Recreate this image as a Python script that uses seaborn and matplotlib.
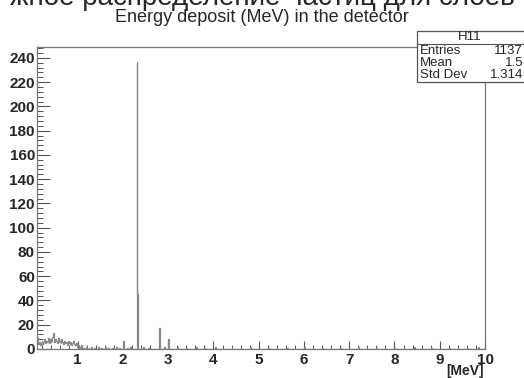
import numpy as np
import pandas as pd
import matplotlib
matplotlib.use("Agg")
import matplotlib.pyplot as plt
import seaborn as sns
from matplotlib.patches import Rectangle
from matplotlib.lines import Line2D
from matplotlib.ticker import MultipleLocator

# ---- data ----
bin_width = 0.02
x_min, x_max = 0.1, 10.0
# low-energy noise, bins from 0.10 to 1.00 (0.02 wide)
low_counts = [9, 4, 6, 3, 5, 7, 4, 6, 8, 5, 7, 6, 9, 5, 8, 6, 7, 10, 13, 6,
              8, 7, 5, 9, 6, 7, 5, 8, 6, 4, 7, 5, 6, 3, 7, 5, 4, 6, 3, 5,
              7, 4, 3, 5, 2]
# sparse bins above 1 MeV: (bin left edge, counts)
sparse_edges = [1.00, 1.04, 1.08, 1.12, 1.18, 1.24, 1.30, 1.36, 1.44, 1.52,
                1.60, 1.68, 1.76, 1.84, 1.92, 2.00, 2.08, 2.16, 2.30, 2.32,
                2.44, 2.56, 2.80, 2.90, 3.00, 3.20, 3.40, 3.62, 3.80, 4.04,
                4.40, 4.80, 5.20, 5.62, 6.00, 6.40, 6.80, 7.20, 7.60, 8.00,
                8.44, 8.80, 9.20, 9.60, 9.84]
sparse_counts = [3, 2, 3, 1, 2, 1, 2, 1, 2, 1,
                 2, 1, 1, 2, 1, 7, 1, 2, 237, 45,
                 2, 1, 17, 2, 8, 2, 1, 2, 1, 2,
                 1, 2, 1, 1, 2, 1, 1, 2, 1, 1,
                 2, 1, 1, 1, 2]
y_ticks = [0, 20, 40, 60, 80, 100, 120, 140, 160, 180, 200, 220, 240]
x_ticks = [1, 2, 3, 4, 5, 6, 7, 8, 9, 10]
stats_labels = ["Entries", "Mean", "Std Dev"]
stats_values = ["1137", "1.5", "1.314"]

edges = [round(v, 4) for v in np.arange(x_min, x_max + bin_width / 2, bin_width)]
low_centers = [x_min + bin_width * (i + 0.5) for i in range(len(low_counts))]
sp_centers = [e + bin_width / 2 for e in sparse_edges]
df = pd.DataFrame({"E": low_centers + sp_centers,
                   "n": low_counts + sparse_counts})

# ---- figure ----
W, H = 524, 378
sns.set_theme(style="white")
plt.rcParams["font.family"] = ["Liberation Sans", "DejaVu Sans"]
fig = plt.figure(figsize=(W / 100, H / 100), dpi=100)
ax = fig.add_axes([37 / W, 1 - 349 / H, (485 - 37) / W, (349 - 47) / H])

sns.histplot(data=df, x="E", weights="n", bins=edges, element="step",
             fill=False, color="#8a8a8a", linewidth=0.9, ax=ax)

ax.set_xlim(x_min, x_max)
ax.set_ylim(0, 249)
ax.set_xticks(x_ticks)
ax.set_yticks(y_ticks)
ax.xaxis.set_minor_locator(MultipleLocator(0.2))
ax.yaxis.set_minor_locator(MultipleLocator(4))
ax.tick_params(axis="y", which="major", direction="in", length=9, width=0.8,
               color="#555555", labelsize=11, pad=1.5, left=True)
ax.tick_params(axis="y", which="minor", direction="in", length=4.5, width=0.7,
               color="#555555", left=True)
ax.tick_params(axis="x", which="major", direction="in", length=6, width=0.8,
               color="#555555", labelsize=11, pad=3, bottom=True)
ax.tick_params(axis="x", which="minor", direction="in", length=3, width=0.7,
               color="#555555", bottom=True)
for lab in ax.get_xticklabels() + ax.get_yticklabels():
    lab.set_fontweight("bold")
ax.set_xlabel("")
ax.set_ylabel("")
for s in ax.spines.values():
    s.set_color("#777777")
    s.set_linewidth(0.9)

# x axis unit label
fig.text(465 / W, 1 - 371 / H, "[MeV]", ha="center", va="center",
         fontsize=10, fontweight="bold")

# title
fig.text(262 / W, 1 - 18 / H, "Energy deposit (MeV) in the detector",
         ha="center", va="center", fontsize=13)

# cropped slide text at top
fig.text(262 / W, 1 - 5 / H, "жное распределение частиц для слоев",
         ha="center", va="baseline", fontsize=20)

# stats box
bx0, by0, bx1, by1 = 417, 31, 526, 82
fig.patches.append(Rectangle((bx0 / W, 1 - by1 / H), (bx1 - bx0) / W,
                             (by1 - by0) / H, transform=fig.transFigure,
                             facecolor="white", edgecolor="#555555",
                             linewidth=0.9, zorder=5))
fig.lines.append(Line2D([bx0 / W, bx1 / W], [1 - 44 / H, 1 - 44 / H],
                        transform=fig.transFigure, color="#555555",
                        linewidth=0.8, zorder=6))
fig.text(470 / W, 1 - 37.5 / H, "H11", ha="center", va="center",
         fontsize=9.5, zorder=7)
for i, (l, v) in enumerate(zip(stats_labels, stats_values)):
    yy = 1 - (50.5 + 12 * i) / H
    fig.text(420 / W, yy, l, ha="left", va="center", fontsize=9.5, zorder=7)
    fig.text(523 / W, yy, v, ha="right", va="center", fontsize=9.5, zorder=7)

fig.savefig("out.png", dpi=100)
